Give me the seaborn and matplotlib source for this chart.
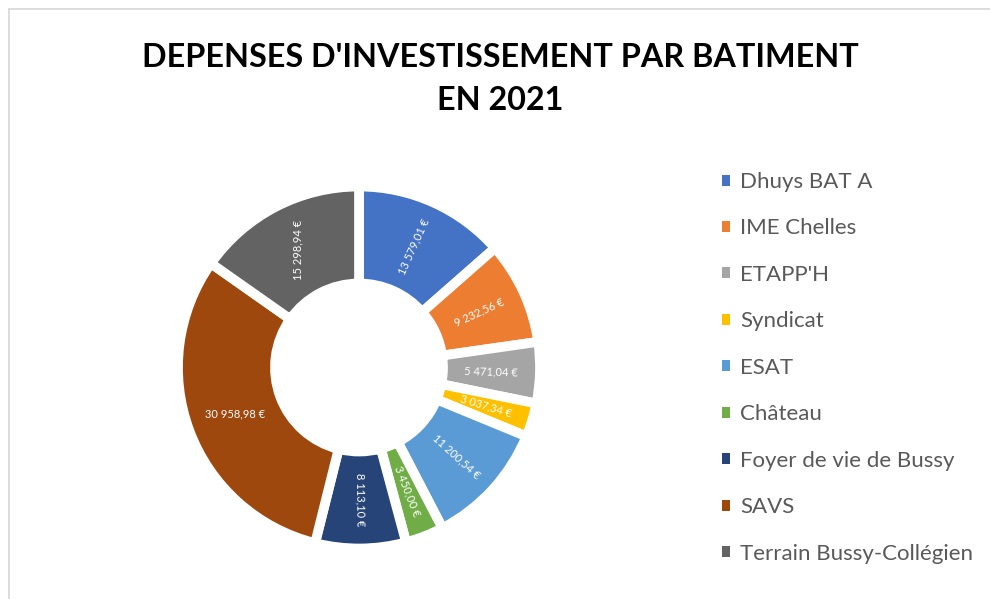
import numpy as np
import matplotlib
matplotlib.use("Agg")
import matplotlib.pyplot as plt
from matplotlib.patches import Rectangle
import seaborn as sns

# data
batiments = ["Dhuys BAT A", "IME Chelles", "ETAPP'H", "Syndicat", "ESAT",
             "Château", "Foyer de vie de Bussy", "SAVS", "Terrain Bussy-Collégien"]
depenses = [13579.01, 9232.56, 5471.04, 3037.34, 11200.54,
            3450.00, 8113.10, 30958.98, 15298.94]
couleurs = ["#4472C4", "#ED7D31", "#A5A5A5", "#FFC000", "#5B9BD5",
            "#70AD47", "#264478", "#9E480E", "#636363"]
titre = "DEPENSES D'INVESTISSEMENT PAR BATIMENT\nEN 2021"

sns.set_theme(style="white")
plt.rcParams["font.family"] = ["Lato", "DejaVu Sans"]
palette = sns.color_palette(couleurs)


def euros(v):
    s = f"{v:,.2f}".replace(",", " ").replace(".", ",")
    return s + " €"


fig = plt.figure(figsize=(9.9, 5.99), dpi=100)

# light grey frame of the chart area
fig.add_artist(Rectangle((9 / 990, -0.05), 1.1, 1 - 9 / 599 + 0.05,
                         transform=fig.transFigure, fill=False,
                         edgecolor="#D9D9D9", linewidth=1.3))

# axes placed in pixels: centre (359, 367.5), 1 data unit = 1 px
ax = fig.add_axes([159 / 990, (599 - 567.5) / 599, 400 / 990, 400 / 599])
R_OUT, R_IN = 181, 84
wedges, _ = ax.pie(depenses, colors=palette, startangle=90, counterclock=False,
                   radius=R_OUT,
                   wedgeprops=dict(width=R_OUT - R_IN, edgecolor="white", linewidth=7))
ax.set_xlim(-200, 200)
ax.set_ylim(-200, 200)
ax.set_aspect("equal")
ax.axis("off")

# value labels, rotated along the radius (left side as in the original)
r_lab = (R_OUT + R_IN) / 2
for i, (w, v) in enumerate(zip(wedges, depenses)):
    mid = np.deg2rad((w.theta1 + w.theta2) / 2)
    x, y = r_lab * np.cos(mid), r_lab * np.sin(mid)
    rot = np.rad2deg(mid)
    if np.cos(mid) < 0:
        rot = 0 if abs(np.sin(mid)) < 0.5 else 90
    elif rot > 90:
        rot -= 180
    ax.text(x, y, euros(v), ha="center", va="center", rotation=rot,
            rotation_mode="anchor", color="white", fontsize=8)

fig.text(500 / 990, 1 - 79 / 599, titre, ha="center", va="center",
         fontsize=23.3, fontweight="bold", color="black", linespacing=1.6)

leg = fig.legend(wedges, batiments, loc="upper left",
                 bbox_to_anchor=(702 / 990, 1 - 152 / 599), frameon=False,
                 fontsize=16, labelcolor="#595959", handlelength=0.38,
                 handleheight=0.38, handletextpad=0.45, labelspacing=1.19)
for h in leg.legend_handles:
    h.set_linewidth(0)

fig.savefig("out.png", dpi=100, facecolor="white")
